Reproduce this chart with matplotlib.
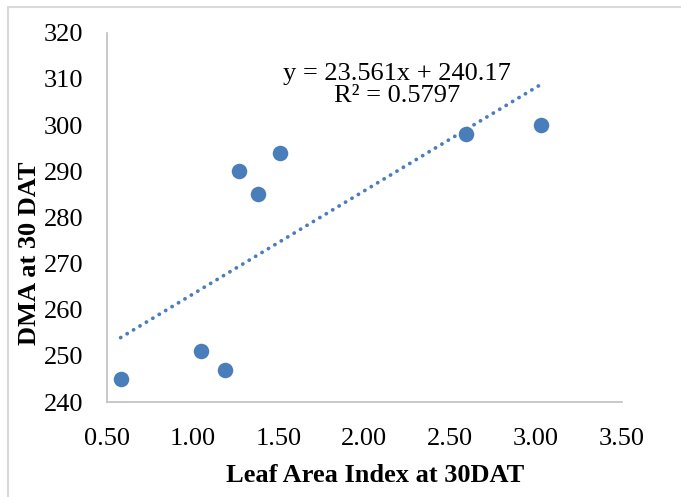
import matplotlib
matplotlib.use("Agg")
import matplotlib.pyplot as plt
from matplotlib.patches import Rectangle
import numpy as np

# data
lai = [0.58, 1.05, 1.19, 1.27, 1.38, 1.51, 2.59, 3.03]
dma = [245, 251, 247, 290, 285, 294, 298, 300]

# trendline label as printed on the chart
slope_txt = "23.561"
intercept_txt = "240.17"
r2_txt = "0.5797"

x_ticks = [0.5, 1.0, 1.5, 2.0, 2.5, 3.0, 3.5]
y_ticks = [240, 250, 260, 270, 280, 290, 300, 310, 320]

plt.rcParams["font.family"] = ["Liberation Serif", "DejaVu Serif"]

blue = "#4a7ebb"
fs = 19

fig = plt.figure(figsize=(6.81, 4.97), dpi=100)
ax = fig.add_axes([0.157, 0.191, 0.756, 0.743])

# chart border (only left and top edges fall inside the picture)
fig.patches.append(Rectangle((0.0115, -0.2), 1.2, 1.186, transform=fig.transFigure,
                             fill=False, edgecolor="#d9d9d9", linewidth=1.5))

ax.scatter(lai, dma, s=125, color=blue, zorder=3, linewidths=0)

# linear trendline over the data range
m, b = np.polyfit(lai, dma, 1)
xs = np.array([min(lai), max(lai)])
ax.plot(xs, m * xs + b, color=blue, linewidth=2.7,
        linestyle=(0, (0.05, 1.95)), dash_capstyle="round", zorder=2)

ax.text(2.19, 311.0, f"y = {slope_txt}x + {intercept_txt}", fontsize=fs,
        ha="center", va="center")
ax.text(2.19, 306.3, f"R² = {r2_txt}", fontsize=fs, ha="center", va="center")

ax.set_xlim(0.5, 3.5)
ax.set_ylim(240, 320)
ax.set_xticks(x_ticks)
ax.set_xticklabels([f"{t:.2f}" for t in x_ticks])
ax.set_yticks(y_ticks)
ax.tick_params(axis="both", length=0, labelsize=fs)
ax.tick_params(axis="x", pad=18.5)
ax.tick_params(axis="y", pad=17)

for side in ("top", "right"):
    ax.spines[side].set_visible(False)
for side in ("left", "bottom"):
    ax.spines[side].set_color("#bfbfbf")
    ax.spines[side].set_linewidth(1.2)

ax.set_xlabel("Leaf Area Index at 30DAT", fontsize=fs, fontweight="bold")
ax.set_ylabel("DMA at 30 DAT", fontsize=fs, fontweight="bold")
ax.xaxis.set_label_coords(0.52, -0.167)
ax.yaxis.set_label_coords(-0.128, 0.404)

fig.savefig("out.png", dpi=100)
